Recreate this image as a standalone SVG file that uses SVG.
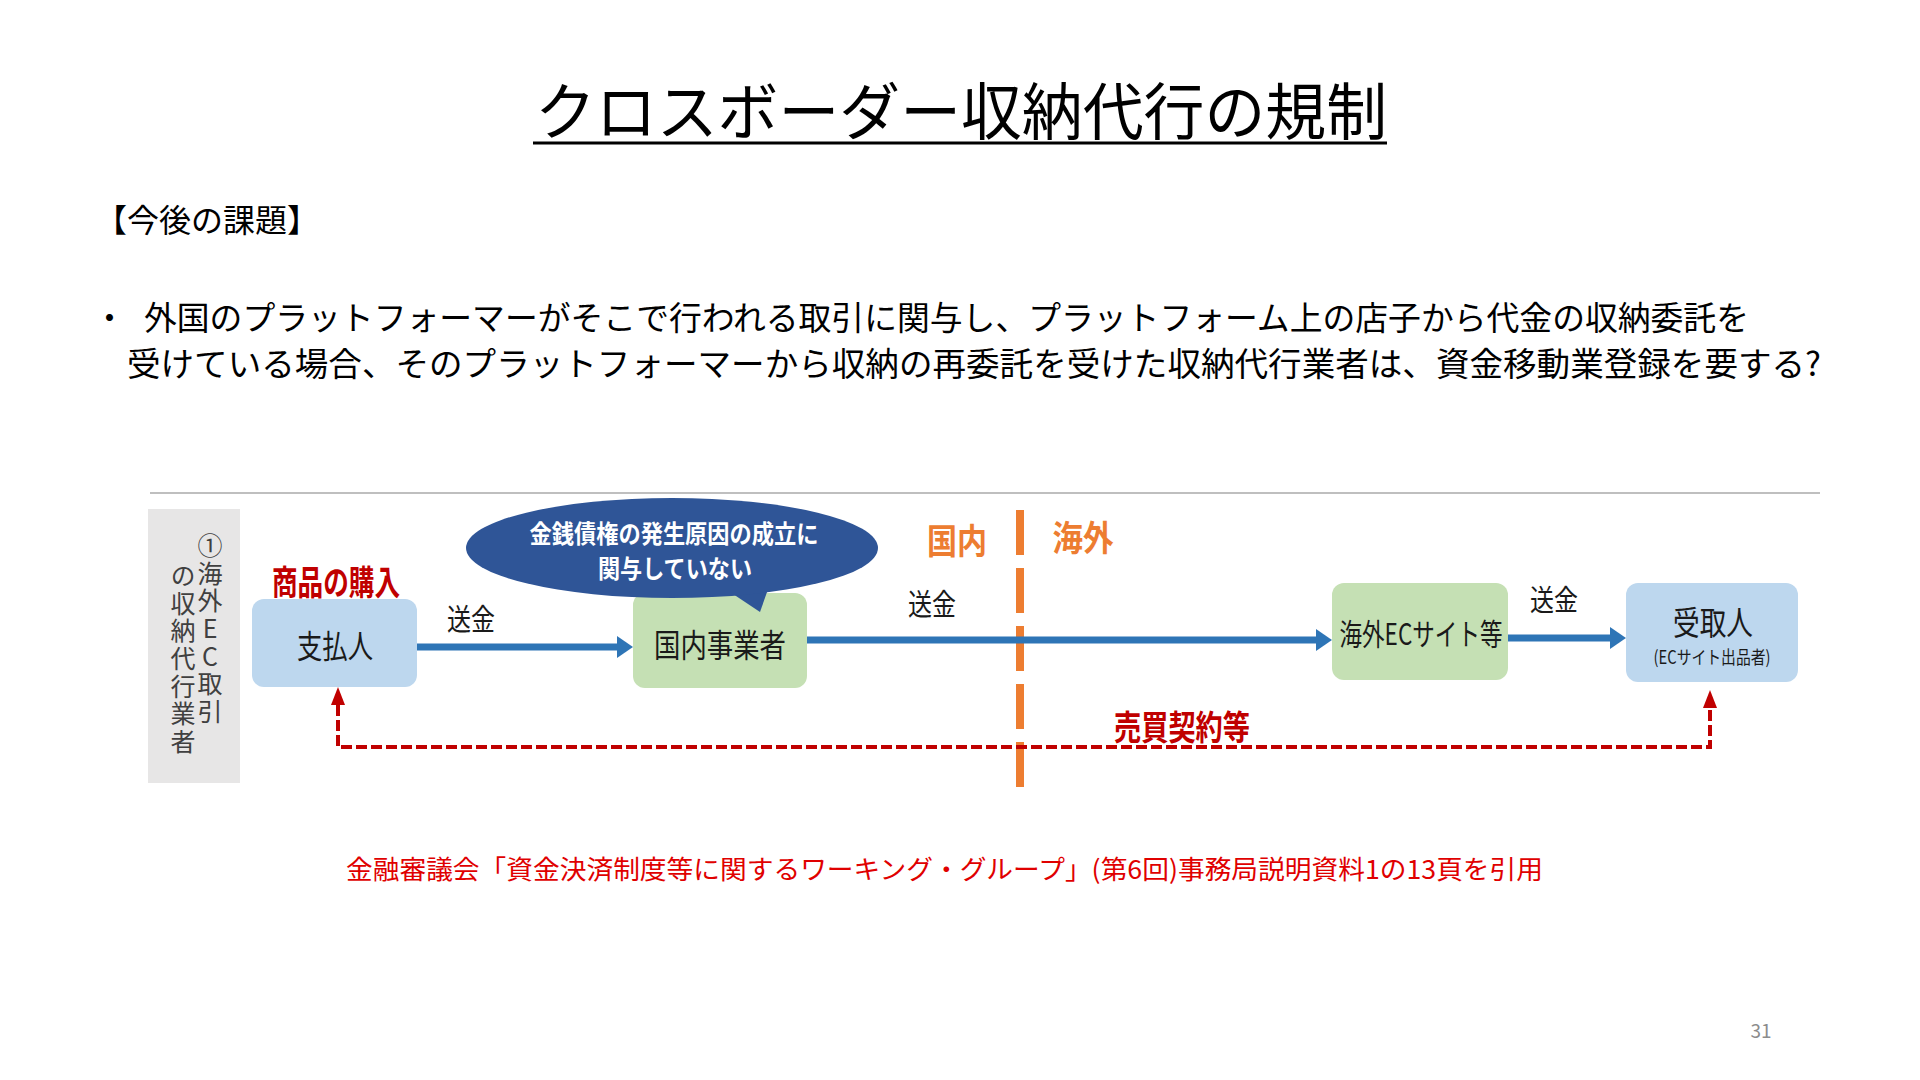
<svg xmlns="http://www.w3.org/2000/svg" width="1920" height="1080" viewBox="0 0 1920 1080">
<style>
text{font-family:"Noto Sans CJK JP","Noto Sans",sans-serif;}
.lbl{fill:#1a1a1a;dominant-baseline:central;text-anchor:middle;}
.red{fill:#c00000;font-weight:bold;dominant-baseline:central;text-anchor:middle;}
.org{fill:#ed7d31;font-weight:bold;dominant-baseline:central;text-anchor:middle;}
.wht{fill:#ffffff;font-weight:bold;dominant-baseline:central;text-anchor:middle;}
.vt{fill:#404040;font-size:25px;writing-mode:vertical-rl;text-orientation:upright;letter-spacing:2.7px;}
.blue{fill:#bdd7ee;}
.green{fill:#c5e0b4;}
.barrow{stroke:#2e75b6;stroke-width:7;fill:none;}
</style>
<defs>
<marker id="bh" markerUnits="userSpaceOnUse" markerWidth="18" markerHeight="24" refX="0" refY="11" orient="auto"><path d="M0,0 L16,11 L0,22 z" fill="#2e75b6"/></marker>
<marker id="rh" markerUnits="userSpaceOnUse" markerWidth="20" markerHeight="16" refX="0" refY="7" orient="auto-start-reverse"><path d="M0,0 L18,7 L0,14 z" fill="#c00000"/></marker>
</defs>
<rect width="1920" height="1080" fill="#ffffff"/>
<g id="title">
<text x="535" y="135" font-size="62" textLength="852" lengthAdjust="spacingAndGlyphs" fill="#000">クロスボーダー収納代行の規制</text>
<line x1="533" y1="143" x2="1387" y2="143" stroke="#000" stroke-width="3"/>
</g>
<g id="heading">
<text x="95" y="232" font-size="32" fill="#000">【今後の課題】</text>
</g>
<g id="bullet">
<text x="93" y="330" font-size="33" fill="#000">・</text>
<text x="144" y="330" font-size="33" textLength="1605" lengthAdjust="spacingAndGlyphs" fill="#000">外国のプラットフォーマーがそこで行われる取引に関与し、プラットフォーム上の店子から代金の収納委託を</text>
<text x="127" y="376" font-size="33" textLength="1694" lengthAdjust="spacingAndGlyphs" fill="#000">受けている場合、そのプラットフォーマーから収納の再委託を受けた収納代行業者は、資金移動業登録を要する?</text>
</g>
<line x1="150" y1="493" x2="1820" y2="493" stroke="#bfbfbf" stroke-width="2"/>
<g id="side-label">
<rect x="148" y="509" width="92" height="274" fill="#e7e6e6"/>
<text class="vt" x="210" y="533">①海外EC取引</text>
<text class="vt" x="183" y="563">の収納代行業者</text>
</g>
<g id="border">
<line x1="1020" y1="510" x2="1020" y2="790" stroke="#ed7d31" stroke-width="8" stroke-dasharray="45 13"/>
<text class="org" x="957" y="538" font-size="35" textLength="60" lengthAdjust="spacingAndGlyphs">国内</text>
<text class="org" x="1083" y="535" font-size="35" textLength="61" lengthAdjust="spacingAndGlyphs">海外</text>
</g>
<g id="connectors">
<path class="barrow" d="M416,647 H617" marker-end="url(#bh)"/>
<path class="barrow" d="M806,640 H1316" marker-end="url(#bh)"/>
<path class="barrow" d="M1508,638 H1610" marker-end="url(#bh)"/>
<path d="M338,705 V747 H1710 V708" fill="none" stroke="#c00000" stroke-width="4" stroke-dasharray="11 4" marker-start="url(#rh)" marker-end="url(#rh)"/>
<text class="lbl" x="471" y="617" font-size="30" textLength="48" lengthAdjust="spacingAndGlyphs">送金</text>
<text class="lbl" x="932" y="602" font-size="30" textLength="48" lengthAdjust="spacingAndGlyphs">送金</text>
<text class="lbl" x="1554" y="598" font-size="29" textLength="48" lengthAdjust="spacingAndGlyphs">送金</text>
<text class="red" x="1182" y="725" font-size="34" textLength="136" lengthAdjust="spacingAndGlyphs">売買契約等</text>
</g>
<g id="payer">
<rect class="blue" x="252" y="599" width="165" height="88" rx="12"/>
<text class="lbl" x="335" y="644" font-size="32" textLength="76" lengthAdjust="spacingAndGlyphs">支払人</text>
<text class="red" x="336" y="580" font-size="34" textLength="128" lengthAdjust="spacingAndGlyphs">商品の購入</text>
</g>
<g id="domestic">
<rect class="green" x="633" y="593" width="174" height="95" rx="12"/>
<text class="lbl" x="720" y="643" font-size="32" textLength="132" lengthAdjust="spacingAndGlyphs">国内事業者</text>
</g>
<g id="callout">
<path d="M724,588 L772,578 L760,612 z" fill="#2f5597"/>
<ellipse cx="672" cy="548" rx="206" ry="50" fill="#2f5597"/>
<text class="wht" x="674" y="532" font-size="25" textLength="289" lengthAdjust="spacingAndGlyphs">金銭債権の発生原因の成立に</text>
<text class="wht" x="675" y="567" font-size="25" textLength="154" lengthAdjust="spacingAndGlyphs">関与していない</text>
</g>
<g id="overseas-ec">
<rect class="green" x="1332" y="583" width="176" height="97" rx="12"/>
<text class="lbl" x="1421" y="632" font-size="30" textLength="163" lengthAdjust="spacingAndGlyphs">海外ECサイト等</text>
</g>
<g id="recipient">
<rect class="blue" x="1626" y="583" width="172" height="99" rx="12"/>
<text class="lbl" x="1713" y="621" font-size="33" textLength="80" lengthAdjust="spacingAndGlyphs">受取人</text>
<text class="lbl" x="1712" y="656" font-size="18" textLength="117" lengthAdjust="spacingAndGlyphs">(ECサイト出品者)</text>
</g>
<g id="source">
<text x="346" y="879" font-size="26" textLength="1197" lengthAdjust="spacingAndGlyphs" fill="#e00000">金融審議会「資金決済制度等に関するワーキング・グループ」(第6回)事務局説明資料1の13頁を引用</text>
</g>
<g id="page">
<text x="1761" y="1038" font-size="19" text-anchor="middle" fill="#8c8c8c">31</text>
</g>
</svg>
